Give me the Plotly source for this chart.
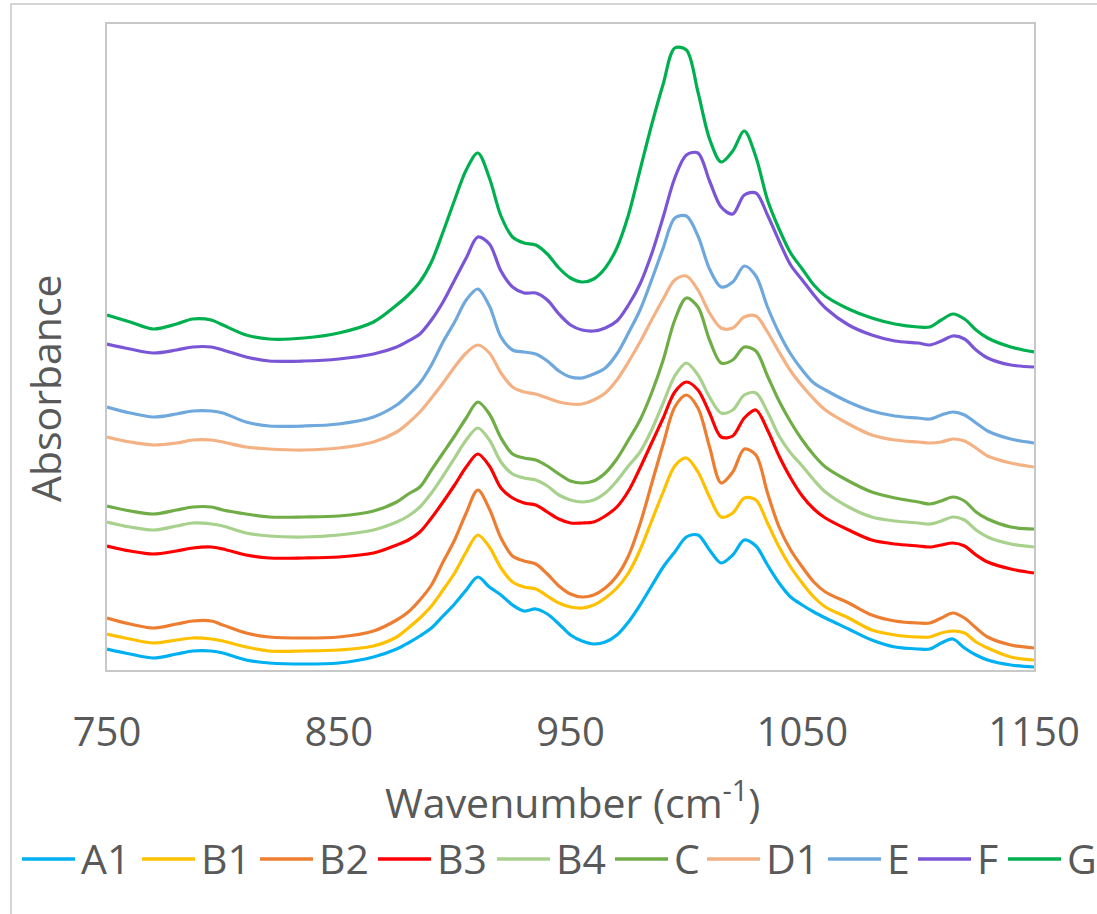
import plotly.graph_objects as go

# Wavenumber grid (cm-1)
wavenumber = [750, 760, 770, 780, 787, 795, 800, 810, 820, 835,
              850, 865, 875, 880, 885, 890, 895, 900, 905, 910,
              915, 920, 925, 930, 935, 940, 945, 950, 955, 960,
              965, 970, 975, 980, 985, 990, 995, 1000, 1005, 1010,
              1015, 1020, 1025, 1030, 1035, 1040, 1045, 1050, 1055, 1060,
              1070, 1080, 1090, 1100, 1105, 1110, 1115, 1120, 1125, 1130,
              1140, 1150]

# Absorbance (arbitrary units, offset spectra)
A1 = [21, 16, 12, 16, 19, 19, 17, 10, 7, 6,
      7, 13, 21, 27, 34, 42, 54, 66, 80, 93,
      83, 75, 65, 59, 61, 56, 46, 35, 29, 26,
      28, 35, 48, 65, 84, 103, 118, 133, 135, 120,
      107, 115, 130, 124, 105, 87, 73, 65, 58, 52,
      41, 30, 23, 21, 21, 27, 31, 22, 15, 10,
      5, 3]
B1 = [36, 31, 27, 30, 32, 31, 29, 23, 19, 19,
      20, 24, 33, 42, 52, 64, 80, 97, 118, 135,
      123, 102, 88, 83, 81, 74, 67, 63, 62, 65,
      72, 82, 97, 120, 149, 178, 204, 212, 198, 173,
      153, 157, 172, 170, 147, 123, 103, 87, 73, 63,
      52, 40, 35, 33, 33, 37, 39, 37, 28, 22,
      13, 10]
B2 = [52, 46, 42, 46, 49, 49, 45, 37, 33, 32,
      33, 39, 50, 58, 70, 85, 108, 130, 157, 180,
      161, 132, 114, 109, 106, 96, 84, 76, 73, 75,
      82, 94, 114, 146, 186, 226, 263, 275, 262, 223,
      187, 198, 221, 215, 177, 143, 120, 103, 88, 78,
      67, 55, 49, 47, 47, 52, 57, 52, 42, 33,
      25, 22]
B3 = [124, 119, 116, 119, 122, 123, 121, 115, 112, 112,
      113, 117, 125, 130, 138, 152, 168, 185, 203, 216,
      204, 182, 172, 167, 165, 158, 151, 147, 147, 148,
      154, 163, 179, 202, 227, 252, 278, 288, 280, 257,
      233, 234, 252, 260, 240, 214, 192, 174, 161, 152,
      140, 130, 126, 124, 123, 125, 127, 124, 115, 108,
      101, 97]
B4 = [148, 143, 140, 144, 147, 146, 144, 137, 134, 133,
      135, 140, 148, 154, 163, 177, 194, 212, 230, 242,
      230, 208, 196, 192, 190, 184, 175, 170, 168, 170,
      177, 189, 204, 218, 240, 267, 294, 307, 295, 273,
      257, 260, 275, 277, 258, 234, 217, 204, 190, 178,
      163, 153, 149, 147, 146, 149, 153, 150, 140, 133,
      126, 123]
C = [164, 159, 156, 160, 163, 163, 160, 156, 153, 153,
     154, 159, 168, 176, 183, 200, 217, 234, 252, 268,
     256, 232, 216, 212, 210, 204, 196, 189, 187, 189,
     197, 211, 230, 250, 277, 310, 350, 372, 363, 330,
     307, 310, 323, 319, 294, 269, 248, 230, 215, 203,
     189, 178, 172, 168, 166, 169, 173, 169, 158, 151,
     143, 141]
D1 = [233, 228, 225, 227, 230, 230, 228, 223, 221, 220,
      222, 228, 238, 247, 258, 272, 287, 303, 317, 325,
      317, 297, 283, 278, 276, 272, 268, 266, 266, 270,
      277, 290, 308, 328, 350, 371, 390, 394, 380, 357,
      342, 342, 353, 354, 338, 318, 299, 284, 271, 260,
      246, 235, 230, 228, 227, 228, 231, 229, 222, 214,
      207, 203]
E = [263, 257, 253, 256, 259, 259, 257, 248, 244, 244,
     246, 253, 265, 275, 287, 305, 328, 348, 370, 381,
     364, 333, 320, 318, 316, 309, 299, 293, 292, 296,
     302, 316, 337, 360, 390, 422, 452, 454, 434, 401,
     383, 388, 404, 394, 363, 337, 316, 300, 287, 280,
     268, 259, 254, 252, 251, 255, 258, 255, 247, 239,
     231, 227]
F = [326, 321, 317, 320, 323, 323, 320, 313, 309, 309,
     311, 316, 323, 329, 336, 350, 368, 390, 412, 433,
     426, 399, 383, 377, 377, 370, 356, 345, 340, 339,
     342, 349, 365, 386, 416, 453, 492, 515, 517, 489,
     463, 456, 475, 477, 455, 429, 405, 390, 375, 362,
     345, 335, 329, 327, 325, 329, 334, 331, 320, 312,
     305, 303]
G = [355, 348, 341, 346, 351, 350, 345, 335, 331, 332,
     337, 348, 365, 375, 388, 408, 438, 470, 500, 517,
     492, 454, 433, 427, 425, 416, 402, 392, 388, 391,
     402, 422, 455, 500, 545, 586, 622, 620, 578, 531,
     508, 519, 539, 513, 470, 441, 417, 401, 385, 374,
     361, 352, 346, 343, 343, 350, 356, 351, 340, 332,
     323, 318]

series_names = ["A1", "B1", "B2", "B3", "B4", "C", "D1", "E", "F", "G"]
series_values = [A1, B1, B2, B3, B4, C, D1, E, F, G]
series_colors = ["#00B0F0", "#FFC000", "#ED7D31", "#FF0000", "#A9D18E",
                 "#70AD47", "#F4B183", "#6FA8DC", "#7A55D6", "#00B050"]

x_ticks = [750, 850, 950, 1050, 1150]

FONT = "Open Sans"
TXT = "#595959"
BORDER = "#C8C8C8"

# plot-area geometry in pixels (layout only)
W, H = 1097, 914
PL, PR, PT, PB = 107, 1034, 24, 670


def px_x(px):
    return (px - PL) / (PR - PL)


def px_y(py):
    return (PB - py) / (PB - PT)


fig = go.Figure()
for name, vals, col in zip(series_names, series_values, series_colors):
    fig.add_trace(go.Scatter(
        x=wavenumber, y=vals, name=name, mode="lines",
        line=dict(color=col, width=3.2, shape="spline", smoothing=0.9),
        showlegend=False,
    ))

# custom legend (long line samples like the reference)
legend_line_starts = [22, 142, 260, 378, 497, 615, 707, 828, 918, 1008]
LEG_LEN = 53
LEG_Y = 859
shapes = [
    dict(type="rect", xref="paper", yref="paper",
         x0=px_x(11), y0=px_y(H + 20), x1=px_x(W + 20), y1=px_y(4),
         line=dict(color=BORDER, width=1.5), fillcolor="rgba(0,0,0,0)",
         layer="below"),
]
annotations = [
    dict(text="Wavenumber (cm<sup>-1</sup>)", xref="paper", yref="paper",
         x=px_x(572), y=px_y(800), xanchor="center", yanchor="middle",
         showarrow=False, font=dict(size=41, color=TXT, family=FONT)),
    dict(text="Absorbance", xref="paper", yref="paper",
         x=px_x(45), y=px_y(388), xanchor="center", yanchor="middle",
         textangle=-90, showarrow=False,
         font=dict(size=41, color=TXT, family=FONT)),
]
for name, col, x0 in zip(series_names, series_colors, legend_line_starts):
    shapes.append(dict(type="line", xref="paper", yref="paper",
                       x0=px_x(x0), x1=px_x(x0 + LEG_LEN),
                       y0=px_y(LEG_Y), y1=px_y(LEG_Y),
                       line=dict(color=col, width=3.5)))
    annotations.append(dict(text=name, xref="paper", yref="paper",
                            x=px_x(x0 + LEG_LEN + 4), y=px_y(LEG_Y - 1),
                            xanchor="left", yanchor="middle", showarrow=False,
                            font=dict(size=41, color=TXT, family=FONT)))

fig.update_layout(
    width=W, height=H,
    margin=dict(l=PL, r=W - PR, t=PT, b=H - PB),
    paper_bgcolor="white", plot_bgcolor="white",
    font=dict(family=FONT, color=TXT),
    showlegend=False,
    xaxis=dict(range=[750, 1150], tickvals=x_ticks,
               ticktext=[str(t) for t in x_ticks],
               showgrid=False, zeroline=False, showline=True, mirror=True,
               linecolor=BORDER, linewidth=1.5, ticks="",
               tickfont=dict(size=40, color=TXT, family=FONT),
               ticklabelstandoff=26),
    yaxis=dict(range=[0, 646], showticklabels=False, showgrid=False,
               zeroline=False, showline=True, mirror=True,
               linecolor=BORDER, linewidth=1.5, ticks=""),
    annotations=annotations,
    shapes=shapes,
)

fig.write_html("out.html")
